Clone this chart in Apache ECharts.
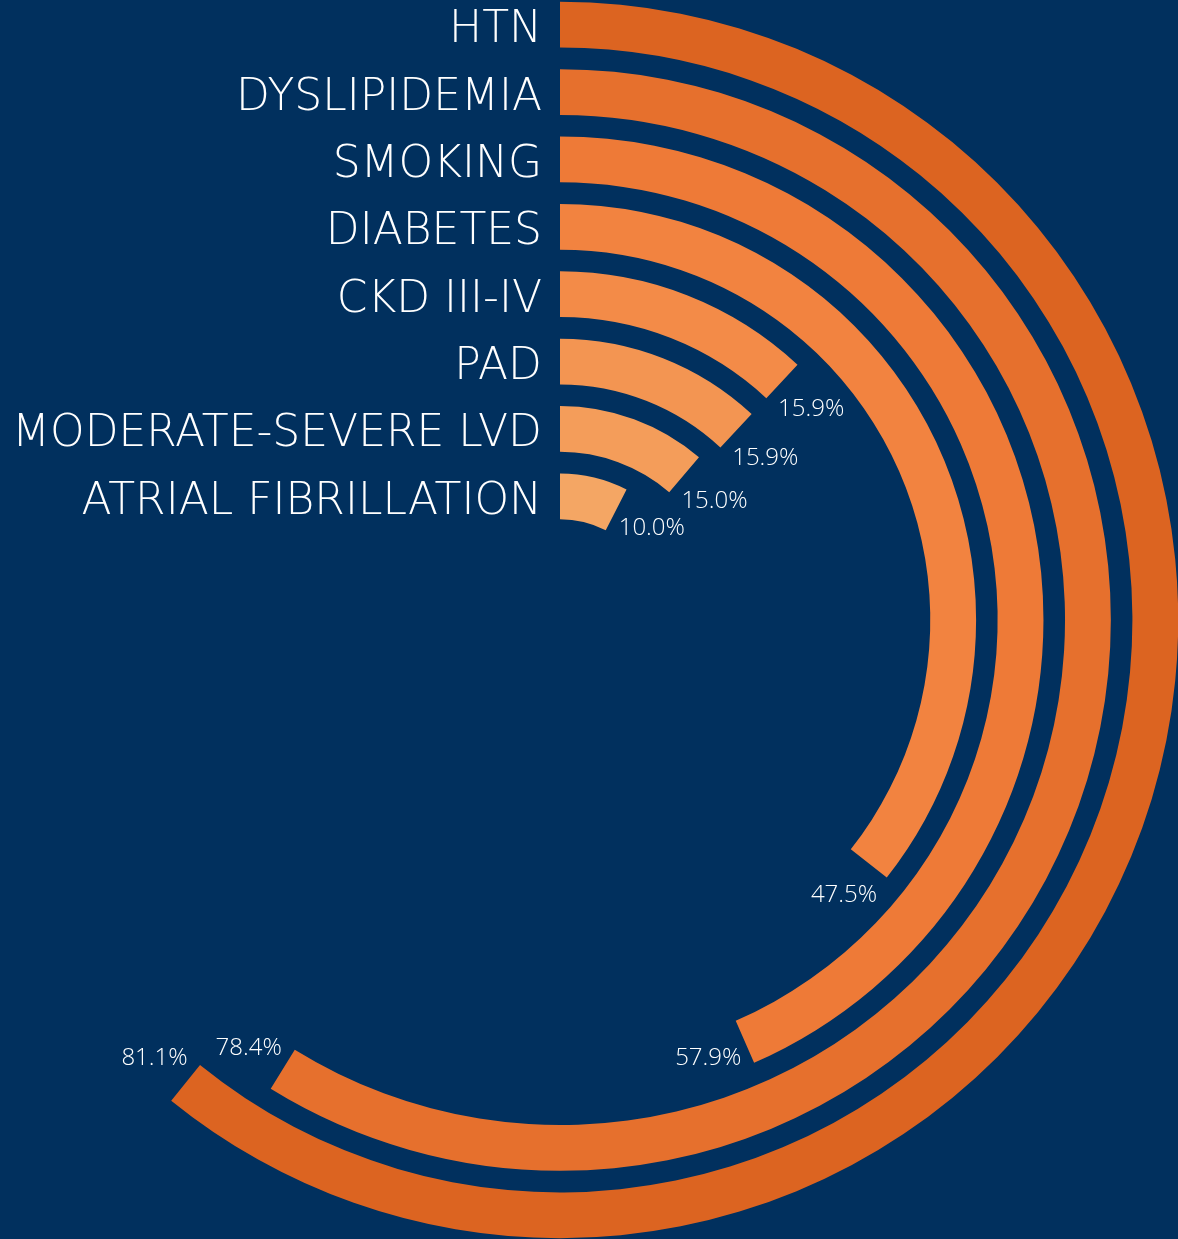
<!DOCTYPE html>
<html><head><meta charset="utf-8">
<script src="https://cdn.jsdelivr.net/npm/echarts@6/dist/echarts.min.js"></script>
<style>html,body{margin:0;padding:0;background:#01305E;}#c{width:1178px;height:1239px;}</style>
</head><body><div id="c"></div>
<script>
const categories = ['ATRIAL FIBRILLATION','MODERATE-SEVERE LVD','PAD','CKD III-IV','DIABETES','SMOKING','DYSLIPIDEMIA','HTN'];
const values = [10.0, 15.0, 15.9, 15.9, 47.5, 57.9, 78.4, 81.1];
const colors = ['#F4A664','#F49D5A','#F39552','#F38B48','#F28340','#EE7A37','#E6702D','#DC6421'];

const chart = echarts.init(document.getElementById('c'));
chart.setOption({
  backgroundColor: '#01305E',
  polar: { center: [560, 620], radius: [90, 629] },
  angleAxis: {
    type: 'value', min: 0, max: 100 / 0.75, startAngle: 90, clockwise: true,
    show: false
  },
  radiusAxis: {
    type: 'category', data: categories,
    axisLine: { show: false }, axisTick: { show: false }, splitLine: { show: false },
    axisLabel: {
      margin: 18, interval: 0,
      formatter: v => '{a|' + v + '}',
      rich: { a: { color: '#ffffff', fontSize: 44, fontFamily: 'DejaVu Sans', fontWeight: 200, padding: [12, 0, 0, 0] } }
    }
  },
  series: [{
    type: 'bar', coordinateSystem: 'polar', barCategoryGap: '32%',
    data: values.map((v, i) => ({ value: v, itemStyle: { color: colors[i] } })),
    label: {
      show: true, position: 'end', rotate: 0, align: 'center', verticalAlign: 'middle', distance: 40,
      color: '#ffffff', fontSize: 24, fontFamily: 'Open Sans', fontWeight: 300,
      formatter: p => p.value.toFixed(1) + '%'
    }
  }]
});
</script></body></html>
